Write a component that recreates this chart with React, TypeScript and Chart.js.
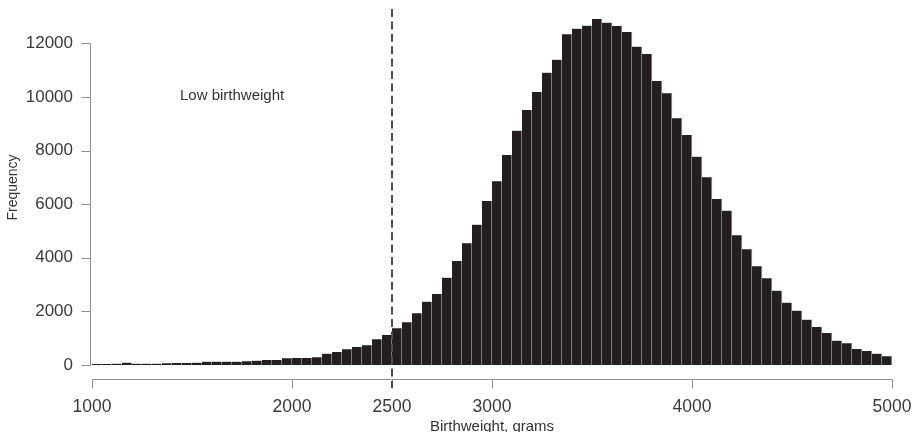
import React, { useEffect, useRef } from 'react';
import { Chart, registerables } from 'chart.js';

Chart.register(...registerables);

// Histogram bins: 50 g wide, starting at 1000 g
const BIN_START = 1000;
const BIN_WIDTH = 50;

// Counts, 1000-1050 ... 4950-5000
const countsBelow2500 = [
  37, 37, 50, 87, 50, 50, 50, 62, 75, 75,
  87, 124, 124, 124, 124, 137, 162, 187, 187, 249,
  261, 261, 286, 423, 485, 584, 671, 734, 957, 1119,
];
const counts2500to3000 = [1369, 1593, 1928, 2362, 2649, 3257, 3880, 4539, 5235, 6118];
const counts3000to4000 = [
  6853, 7834, 8741, 9513, 10184, 10905, 11390, 12337, 12546, 12658,
  12907, 12770, 12646, 12422, 11875, 11602, 10595, 10136, 9203, 8580,
];
const counts4000to5000 = [
  7771, 7002, 6193, 5756, 4838, 4316, 3682, 3234, 2772, 2324,
  2026, 1690, 1418, 1194, 907, 809, 597, 522, 423, 323,
];
const frequencies = [...countsBelow2500, ...counts2500to3000, ...counts3000to4000, ...counts4000to5000];

const xTickValues = [1000, 2000, 2500, 3000, 4000, 5000];
const yTickValues = [0, 2000, 4000, 6000, 8000, 10000, 12000];
const lowBirthweightCutoff = 2500;

const xAxisTitle = 'Birthweight, grams';
const yAxisTitle = 'Frequency';
const annotationText = 'Low birthweight';

const FONT = '"Liberation Sans", Arial, Helvetica, sans-serif';

const decorPlugin = {
  id: 'rStyleDecor',
  afterDraw(chart: any) {
    const { ctx, scales } = chart;
    const xs = scales.x;
    const ys = scales.y;
    ctx.save();

    // y axis (R style, spanning ticks only)
    ctx.strokeStyle = '#8f8f8f';
    ctx.lineWidth = 1;
    const yAxisX = 90.5;
    const y0 = Math.round(ys.getPixelForValue(yTickValues[0])) + 0.5;
    const yN = Math.round(ys.getPixelForValue(yTickValues[yTickValues.length - 1])) + 0.5;
    ctx.beginPath();
    ctx.moveTo(yAxisX, y0);
    ctx.lineTo(yAxisX, yN);
    for (const v of yTickValues) {
      const py = Math.round(ys.getPixelForValue(v)) + 0.5;
      ctx.moveTo(yAxisX, py);
      ctx.lineTo(yAxisX - 9, py);
    }
    ctx.stroke();

    // x axis (separate line below bars)
    const xAxisY = 379.5;
    const xL = Math.round(xs.getPixelForValue(xTickValues[0])) + 0.5;
    const xR = Math.round(xs.getPixelForValue(xTickValues[xTickValues.length - 1])) + 0.5;
    ctx.beginPath();
    ctx.moveTo(xL, xAxisY);
    ctx.lineTo(xR, xAxisY);
    for (const v of xTickValues) {
      const px = Math.round(xs.getPixelForValue(v)) + 0.5;
      ctx.moveTo(px, xAxisY);
      ctx.lineTo(px, xAxisY + 9);
    }
    ctx.stroke();

    // dashed cutoff line
    const cx = xs.getPixelForValue(lowBirthweightCutoff);
    ctx.strokeStyle = '#4d4d4d';
    ctx.lineWidth = 2;
    ctx.setLineDash([8, 4.4]);
    ctx.beginPath();
    ctx.moveTo(cx, chart.chartArea.top);
    ctx.lineTo(cx, 388);
    ctx.stroke();
    ctx.setLineDash([]);

    // texts
    ctx.fillStyle = '#333333';
    ctx.font = `15px ${FONT}`;
    ctx.textAlign = 'left';
    ctx.textBaseline = 'alphabetic';
    ctx.fillText(annotationText, 180, 100);

    ctx.textAlign = 'center';
    ctx.fillText(xAxisTitle, (xs.left + xs.right) / 2, 431);

    ctx.save();
    ctx.font = `14px ${FONT}`;
    ctx.translate(16.7, 187.5);
    ctx.rotate(-Math.PI / 2);
    ctx.textAlign = 'center';
    ctx.textBaseline = 'alphabetic';
    ctx.fillText(yAxisTitle, 0, 0);
    ctx.restore();

    ctx.restore();
  },
};

export default function App() {
  const ref = useRef<HTMLCanvasElement>(null);

  useEffect(() => {
    const canvas = ref.current;
    if (!canvas) return;
    const data = frequencies.map((f, i) => ({ x: BIN_START + BIN_WIDTH * (i + 0.5), y: f }));
    const chart = new Chart(canvas, {
      type: 'bar',
      data: {
        datasets: [
          {
            label: yAxisTitle,
            data,
            backgroundColor: '#231f20',
            borderColor: '#a9a9a9',
            borderWidth: { top: 0, right: 1, bottom: 0, left: 0 },
            barPercentage: 1,
            categoryPercentage: 1,
          } as any,
        ],
      },
      options: {
        animation: false,
        responsive: false,
        maintainAspectRatio: false,
        devicePixelRatio: 1,
        layout: { padding: { top: 9, right: 23, bottom: 0, left: 0 } },
        plugins: {
          legend: { display: false },
          tooltip: { enabled: false },
        },
        scales: {
          x: {
            type: 'linear',
            min: 1000,
            max: 5000,
            offset: false,
            grid: { display: false, drawTicks: false, drawOnChartArea: false },
            border: { display: false },
            afterBuildTicks: (scale: any) => {
              scale.ticks = xTickValues.map((v) => ({ value: v }));
            },
            afterFit: (scale: any) => {
              scale.height = 67;
              scale.paddingLeft = 0;
              scale.paddingRight = 0;
              scale.paddingTop = 0;
              scale.paddingBottom = 0;
            },
            ticks: {
              autoSkip: false,
              maxRotation: 0,
              minRotation: 0,
              padding: 32,
              color: '#3a3a3a',
              font: { family: FONT, size: 17.5 },
              callback: (v: any) => String(v),
            },
          },
          y: {
            type: 'linear',
            min: 0,
            max: 13280,
            grid: { display: false, drawTicks: false, drawOnChartArea: false },
            border: { display: false },
            afterBuildTicks: (scale: any) => {
              scale.ticks = yTickValues.map((v) => ({ value: v }));
            },
            afterFit: (scale: any) => {
              scale.width = 92;
              scale.paddingLeft = 0;
              scale.paddingRight = 0;
              scale.paddingTop = 0;
              scale.paddingBottom = 0;
            },
            ticks: {
              padding: 19,
              color: '#3a3a3a',
              font: { family: FONT, size: 17 },
              callback: (v: any) => String(v),
            },
          },
        },
      },
      plugins: [decorPlugin],
    } as any);
    return () => chart.destroy();
  }, []);

  return (
    <div style={{ position: 'absolute', left: 0, top: 0, width: 915, height: 432, background: '#ffffff' }}>
      <canvas ref={ref} width={915} height={432} style={{ display: 'block', width: 915, height: 432 }} />
    </div>
  );
}
